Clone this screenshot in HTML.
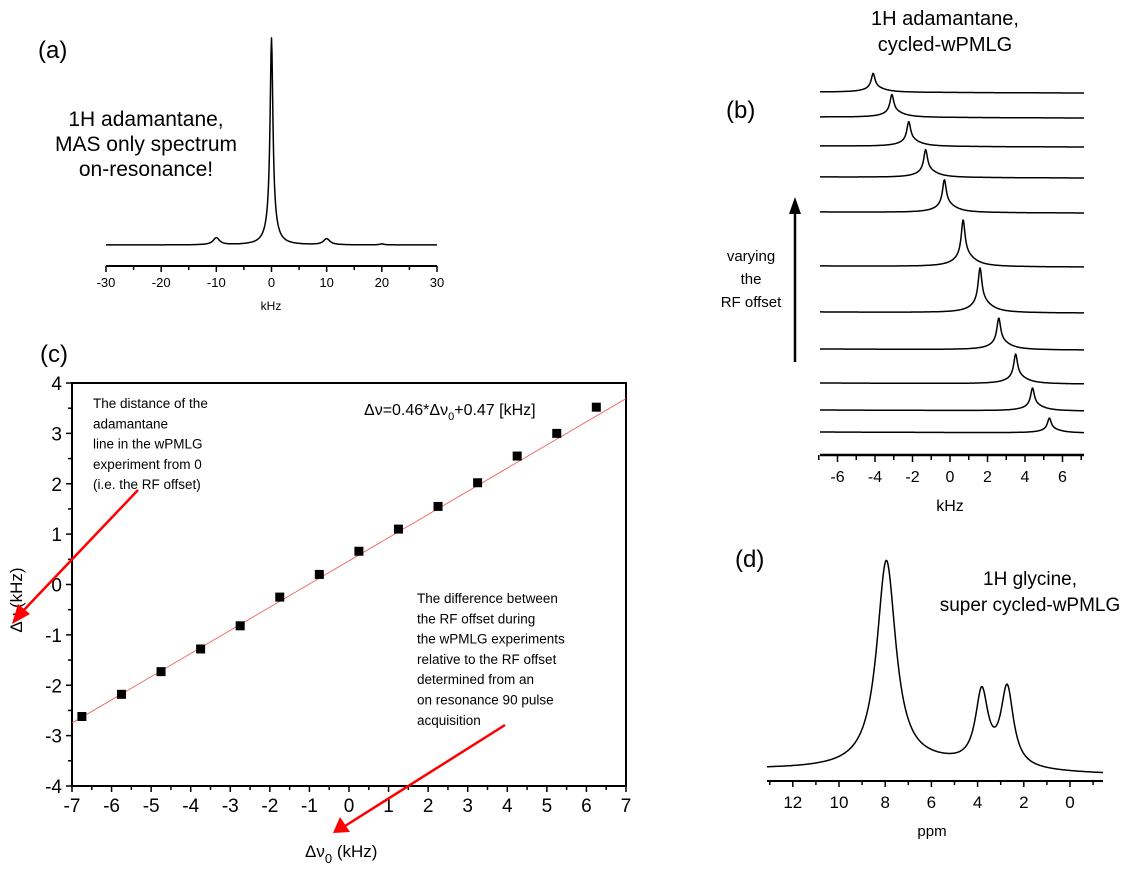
<!DOCTYPE html>
<html><head><meta charset="utf-8"><style>
html,body{margin:0;padding:0;background:#fff}
svg{display:block;font-family:"Liberation Sans",Arial,sans-serif}
</style></head><body>
<svg id="s" width="1144" height="869" xmlns="http://www.w3.org/2000/svg">
<g fill="#000">
<text x="38" y="58" font-size="24">(a)</text>
<text x="146" y="126" font-size="21" text-anchor="middle">1H adamantane,</text>
<text x="146" y="151" font-size="21" text-anchor="middle">MAS only spectrum</text>
<text x="146" y="176" font-size="21" text-anchor="middle">on-resonance!</text>
<text x="271" y="310" font-size="12" text-anchor="middle">kHz</text>
<text x="945" y="25" font-size="20" text-anchor="middle">1H adamantane,</text>
<text x="945" y="51" font-size="20" text-anchor="middle">cycled-wPMLG</text>
<text x="726" y="118" font-size="24">(b)</text>
<text x="751" y="261" font-size="15" text-anchor="middle">varying</text>
<text x="751" y="284" font-size="15" text-anchor="middle">the</text>
<text x="751" y="307" font-size="15" text-anchor="middle">RF offset</text>
<text x="950" y="511" font-size="16" text-anchor="middle">kHz</text>
<text x="40" y="362" font-size="24">(c)</text>
<text x="735" y="567" font-size="24">(d)</text>
<text x="1030" y="585" font-size="19" text-anchor="middle">1H glycine,</text>
<text x="1030" y="611" font-size="19" text-anchor="middle">super cycled-wPMLG</text>
<text x="932" y="836" font-size="15" text-anchor="middle">ppm</text>
</g>
<g id="dyn"></g>
</svg>
<script>
var g=document.getElementById("dyn"),out="";
function L(x1,y1,x2,y2,w,c){out+='<line x1="'+x1+'" y1="'+y1+'" x2="'+x2+'" y2="'+y2+'" stroke="'+(c||'#000')+'" stroke-width="'+(w||1)+'"/>';}
function T(x,y,s,fs,a){out+='<text x="'+x+'" y="'+y+'" font-size="'+fs+'" text-anchor="'+(a||'middle')+'">'+s+'</text>';}
function P(d,w,c){out+='<path d="'+d+'" fill="none" stroke="'+(c||'#000')+'" stroke-width="'+(w||1.5)+'" stroke-linejoin="round"/>';}
function lor(x,x0,w){return 1/(1+Math.pow((x-x0)/w,2));}
(function(){
 var x0=106,x1=437,sc=(x1-x0)/60,ay=266,by=245;
 L(x0,ay,x1,ay,2);
 for(var v=-30;v<=30;v+=5){var x=x0+(v+30)*sc;L(x,ay,x,ay+(v%10==0?6:4),1.5);if(v%10==0)T(x,287,v,13);}
 var d="";for(var px=x0;px<=x1;px+=0.5){var k=(px-x0)/sc-30;var h=185*lor(k,0,0.3)+22*lor(k,0,1.0)+7*lor(k,-10,0.7)+6*lor(k,10,0.7)+1*lor(k,20,0.5);d+=(d?"L":"M")+px.toFixed(1)+","+(by-h).toFixed(1);}
 P(d,1.5);
})();
(function(){
 var x0=820,x1=1084,c=950,sc=18.75,ay=455;
 L(x0,ay,x1,ay,2.5);
 for(var v=-7;v<=7;v++){var x=c+v*sc;L(x,ay,x,ay+(v%2==0?7:5),1.5);if(v%2==0)T(x,482,v,16);}
 var base=[93,118,147,178,213,267,313,350,384,411,433],pos=[-4.1,-3.1,-2.2,-1.3,-0.3,0.7,1.6,2.6,3.5,4.4,5.3],ht=[19,23,25,28,33,47,45,32,30,23,15];
 for(var i=0;i<11;i++){var d="";for(var px=x0;px<=x1;px+=0.5){var k=(px-c)/sc;var h=ht[i]*(0.75*lor(k,pos[i],0.12)+0.25*lor(k,pos[i]+0.1,0.6))-(px-x0)*0.004;d+=(d?"L":"M")+px.toFixed(1)+","+(base[i]-h-1).toFixed(1);}P(d,1.5);}
 L(795,362,795,212,2.5);out+='<polygon points="789,214 801,214 795,197" fill="#000"/>';
})();
(function(){
 var X0=72,X1=626,Y0=383,Y1=786,sx=(X1-X0)/14,sy=(Y1-Y0)/8;
 function fx(v){return X0+(v+7)*sx;}function fy(v){return Y0+(4-v)*sy;}
 out+='<rect x="'+X0+'" y="'+Y0+'" width="'+(X1-X0)+'" height="'+(Y1-Y0)+'" fill="none" stroke="#000" stroke-width="2"/>';
 for(var v=-7;v<=7;v+=0.5){var x=fx(v);L(x,Y1,x,Y1+(v%1==0?6:4),1.5);if(v%1==0)T(x,812,v,19);}
 for(var v=-4;v<=4;v+=0.5){var y=fy(v);L(X0,y,X0-(v%1==0?6:4),y,1.5);if(v%1==0)T(62,y+7,v,19,'end');}
 L(fx(-7),fy(-7*0.46+0.47),fx(7),fy(7*0.46+0.47),0.8,'#f05050');
 var ys=[-2.62,-2.18,-1.73,-1.28,-0.82,-0.25,0.2,0.66,1.1,1.55,2.02,2.55,3.0,3.52];
 for(var i=0;i<14;i++){var x=fx(-6.75+i),y=fy(ys[i]);out+='<rect x="'+(x-4.5)+'" y="'+(y-4.5)+'" width="9" height="9" fill="#000"/>';}
 var lt=["The distance of the","adamantane","line in the wPMLG","experiment from 0","(i.e. the RF offset)"];
 for(var i=0;i<5;i++)T(93,408+i*20.3,lt[i],13.5,'start');
 var rt=["The difference between","the RF offset during","the wPMLG experiments","relative to the RF offset","determined from an","on resonance 90 pulse","acquisition"];
 for(var i=0;i<7;i++)T(417,603+i*20.3,rt[i],13.5,'start');
 out+='<text x="364" y="415" font-size="16">Δν=0.46*Δν<tspan font-size="11" dy="5">0</tspan><tspan dy="-5">+0.47 [kHz]</tspan></text>';
 out+='<text x="305" y="857" font-size="17">Δν<tspan font-size="13" dy="6">0</tspan><tspan dy="-6"> (kHz)</tspan></text>';
 out+='<text transform="translate(22,600) rotate(-90)" font-size="17" text-anchor="middle">Δν (kHz)</text>';
 L(138,490,22,612,2.5,'#f00');out+='<polygon points="12,624 18,604 30,614" fill="#f00"/>';
 L(505,725,345,826,2.5,'#f00');out+='<polygon points="333,833 340,817 350,832" fill="#f00"/>';
})();
(function(){
 var c0=1070,sc=23.1,ay=781,by=768;
 L(767,ay,1103,ay,2);
 for(var v=13;v>=-1;v--){var x=c0-v*sc;L(x,ay,x,ay+(v%2==0?6:4),1.5);if(v%2==0)T(x,808,v,17);}
 var d="";for(var px=767;px<=1103;px+=0.5){var k=(c0-px)/sc;var h=205*lor(k,7.95,0.5)+72*lor(k,3.82,0.33)+78*lor(k,2.72,0.33)+8*lor(k,6,3)-(px-767)*0.015;d+=(d?"L":"M")+px.toFixed(1)+","+(by-h+2).toFixed(1);}
 P(d,1.5);
})();
g.innerHTML=out;
</script>
</body></html>
